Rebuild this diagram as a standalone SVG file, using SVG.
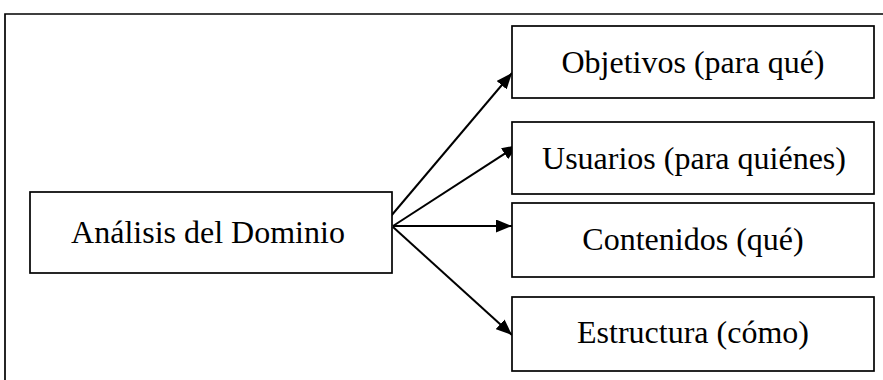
<svg xmlns="http://www.w3.org/2000/svg" width="883" height="380" viewBox="0 0 883 380">
  <style>
    .box { fill: #ffffff; stroke: #000000; stroke-width: 1.7; }
    .label { font-family: "Liberation Serif", "Times New Roman", serif; font-size: 32px; fill: #000000; text-anchor: middle; }
    .frame { fill: none; stroke: #000000; stroke-width: 1.7; }
    .conn { fill: none; stroke: #000000; stroke-width: 2; marker-end: url(#arrow); }
  </style>
  <defs>
    <marker id="arrow" markerUnits="userSpaceOnUse" markerWidth="16" markerHeight="13" refX="16" refY="6.5" orient="auto">
      <path d="M0,0 L16,6.5 L0,13 Z" fill="#000000"/>
    </marker>
  </defs>

  <rect x="0" y="0" width="883" height="380" fill="#ffffff"/>

  <!-- surrounding frame (open on the right and bottom) -->
  <path class="frame" d="M5,380 V14 H883"/>

  <g id="connectors">
    <line class="conn" x1="391" y1="216" x2="512" y2="73"/>
    <line class="conn" x1="393" y1="226" x2="518" y2="145"/>
    <line class="conn" x1="393" y1="226" x2="512" y2="226"/>
    <line class="conn" x1="393" y1="227" x2="512" y2="335"/>
  </g>

  <g id="analisis">
    <rect class="box" x="30" y="192" width="362" height="81"/>
    <text class="label" x="208" y="243">Análisis del Dominio</text>
  </g>

  <g id="objetivos">
    <rect class="box" x="512" y="26" width="362" height="72"/>
    <text class="label" x="693" y="73">Objetivos (para qué)</text>
  </g>

  <g id="usuarios">
    <rect class="box" x="512" y="122" width="362" height="72"/>
    <text class="label" x="694" y="169">Usuarios (para quiénes)</text>
  </g>

  <g id="contenidos">
    <rect class="box" x="512" y="203" width="362" height="74"/>
    <text class="label" x="693" y="250">Contenidos (qué)</text>
  </g>

  <g id="estructura">
    <rect class="box" x="512" y="297" width="362" height="74"/>
    <text class="label" x="693" y="343">Estructura (cómo)</text>
  </g>
</svg>
